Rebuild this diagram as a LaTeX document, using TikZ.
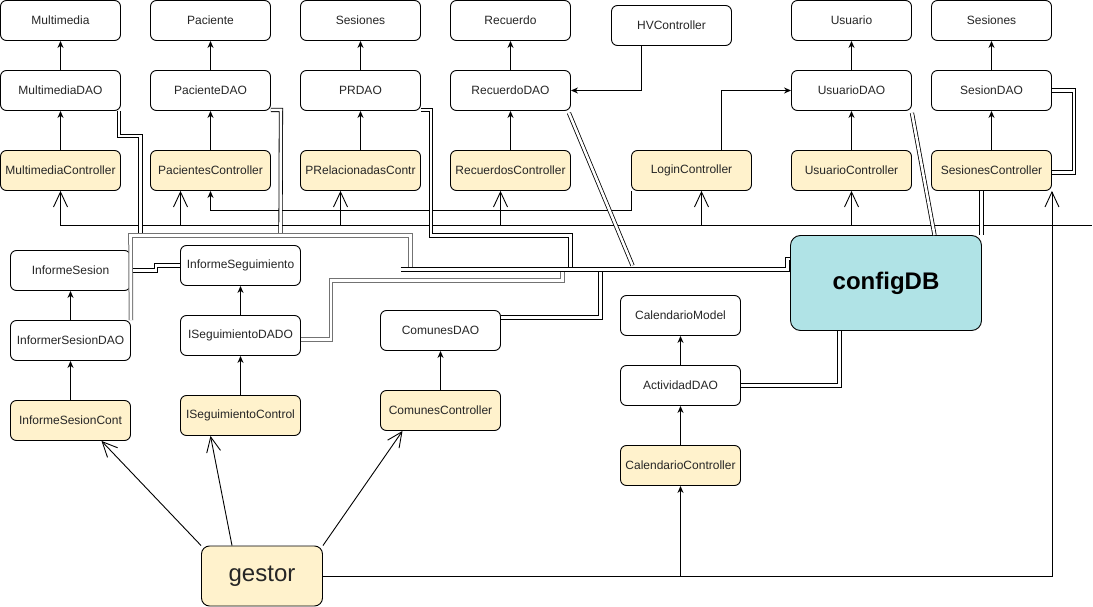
\documentclass[tikz,border=0pt]{standalone}
\usepackage{fontspec}
\setmainfont{Liberation Sans}
\usetikzlibrary{arrows.meta,positioning}

\definecolor{ctrlfill}{HTML}{FFF2CC}
\definecolor{dbfill}{HTML}{B0E3E6}

\tikzstyle{box} = [rectangle, rounded corners=6pt, minimum width=120pt, minimum height=40pt, inner sep=1pt, text centered, draw=black, fill=white, text=black!85, line width=0.9pt, font=\fontsize{12pt}{14pt}\selectfont]
\tikzstyle{ctrl} = [box, fill=ctrlfill]
\tikzstyle{arrow} = [line width=0.9pt, -{Stealth[length=7pt,width=6pt]}]
\tikzstyle{openarrow} = [line width=0.9pt, -{Straight Barb[length=15pt,width=14pt]}]
\tikzstyle{link} = [line width=0.8pt, double=white, double distance=2.6pt]
\tikzstyle{greylink} = [link, line width=1pt, draw=black!55]

\begin{document}
\begin{tikzpicture}[x=1pt, y=-1pt, node distance=80pt]
		\useasboundingbox (-0.5,-0.5) rectangle (1092.5,606.5);
		% Nodes
		\node (mmctrl) [ctrl] at (60,170) {MultimediaController};
		\node (mmdao) [box, above of=mmctrl] {MultimediaDAO};
		\node (mm) [box, node distance=70pt, above of=mmdao] {Multimedia};
		\node (pacctrl) [ctrl] at (210,170) {PacientesController};
		\node (pacdao) [box, above of=pacctrl] {PacienteDAO};
		\node (pac) [box, node distance=70pt, above of=pacdao] {Paciente};
		\node (prctrl) [ctrl] at (360,170) {PRelacionadasContr};
		\node (prdao) [box, above of=prctrl] {PRDAO};
		\node (ses) [box, node distance=70pt, above of=prdao] {Sesiones};
		\node (recctrl) [ctrl] at (510,170) {RecuerdosController};
		\node (recdao) [box, above of=recctrl] {RecuerdoDAO};
		\node (rec) [box, node distance=70pt, above of=recdao] {Recuerdo};
		\node (hv) [box] at (671,25) {HVController};
		\node (login) [ctrl] at (691,170) {LoginController};
		\node (usuctrl) [ctrl] at (851,170) {UsuarioController};
		\node (usudao) [box, above of=usuctrl] {UsuarioDAO};
		\node (usu) [box, node distance=70pt, above of=usudao] {Usuario};
		\node (sesctrl) [ctrl] at (991,170) {SesionesController};
		\node (sesdao) [box, above of=sesctrl] {SesionDAO};
		\node (ses2) [box, node distance=70pt, above of=sesdao] {Sesiones};
		\node (infsesctrl) [ctrl] at (70,420) {InformeSesionCont};
		\node (infsesdao) [box, above of=infsesctrl] {InformerSesionDAO};
		\node (infses) [box, node distance=70pt, above of=infsesdao] {InformeSesion};
		\node (isegctrl) [ctrl] at (240,415) {ISeguimientoControl};
		\node (isegdao) [box, above of=isegctrl] {ISeguimientoDADO};
		\node (infseg) [box, node distance=70pt, above of=isegdao] {InformeSeguimiento};
		\node (comctrl) [ctrl] at (440,410) {ComunesController};
		\node (comdao) [box, above of=comctrl] {ComunesDAO};
		\node (calctrl) [ctrl] at (680,465) {CalendarioController};
		\node (actdao) [box, above of=calctrl] {ActividadDAO};
		\node (calmod) [box, node distance=70pt, above of=actdao] {CalendarioModel};
		\node (config) [box, fill=dbfill, rounded corners=10pt, minimum width=191pt, minimum height=95pt, font=\fontsize{24pt}{28pt}\selectfont\bfseries, text=black] at (885.5,282.5) {configDB};
		\node (gestor) [ctrl, rounded corners=8pt, minimum width=121pt, minimum height=60pt, font=\fontsize{24pt}{28pt}\selectfont] at (261.5,575.5) {gestor};
		\coordinate (busE) at (1091,225);
		\coordinate (busW) at (400,269);
		\coordinate (busN) at (410,235);
		\coordinate (topL) at (130,235);
		\coordinate (isegJ) at (562,280);
		% Arrows
		\draw [arrow] (mmctrl) -- (mmdao);
		\draw [arrow] (mmdao) -- (mm);
		\draw [arrow] (pacctrl) -- (pacdao);
		\draw [arrow] (pacdao) -- (pac);
		\draw [arrow] (prctrl) -- (prdao);
		\draw [arrow] (prdao) -- (ses);
		\draw [arrow] (recctrl) -- (recdao);
		\draw [arrow] (recdao) -- (rec);
		\draw [arrow] (usuctrl) -- (usudao);
		\draw [arrow] (usudao) -- (usu);
		\draw [arrow] (sesctrl) -- (sesdao);
		\draw [arrow] (sesdao) -- (ses2);
		\draw [arrow] (infsesctrl) -- (infsesdao);
		\draw [arrow] (infsesdao) -- (infses);
		\draw [arrow] (isegctrl) -- (isegdao);
		\draw [arrow] (isegdao) -- (infseg);
		\draw [arrow] (comctrl) -- (comdao);
		\draw [arrow] (calctrl) -- (actdao);
		\draw [arrow] (actdao) -- (calmod);
		\draw [arrow] ([xshift=-30pt]hv.south) |- (recdao);
		\draw [arrow] ([xshift=30pt]login.north) |- (usudao);
		\draw [arrow] (login.south west) -- ++(0,20) -| (pacctrl);
		% Bus
		\draw [openarrow] (busE) -| (mmctrl);
		\draw [openarrow] ([xshift=-30pt]pacctrl.south |- busE) -- ([xshift=-30pt]pacctrl.south);
		\draw [openarrow] ([xshift=-20pt]prctrl.south |- busE) -- ([xshift=-20pt]prctrl.south);
		\draw [openarrow] ([xshift=-10pt]recctrl.south |- busE) -- ([xshift=-10pt]recctrl.south);
		\draw [openarrow] ([xshift=10pt]login.south |- busE) -- ([xshift=10pt]login.south);
		\draw [openarrow] (usuctrl.south |- busE) -- (usuctrl.south);
		% gestor
		\draw [openarrow] (gestor.north west) -- ([xshift=31pt]infsesctrl.south);
		\draw [openarrow] ([xshift=-30pt]gestor.north) -- ([xshift=-30pt]isegctrl.south);
		\draw [openarrow] (gestor.north east) -- ([xshift=-38pt]comctrl.south);
		\draw [openarrow] (gestor) -| (sesctrl.south east);
		\draw [arrow] (calctrl |- gestor) -- (calctrl);
		% configDB
		\draw [link] (infses.east) -- ++(25,0) |- (infseg.west);
		\draw [link] ([xshift=-2pt]mmdao.south east) -- ++(0,25) -| ([xshift=10pt]topL);
		\draw [link] ([yshift=1pt]pacdao.south east) -- ++(10,0) -- ([xshift=150pt]topL);
		\draw [greylink] (infsesdao.north east) -- (topL) -- (busN) -- (busN |- busW);
		\draw [link] ([yshift=1pt]prdao.south east) -- ++(10,0) |- ([xshift=160pt]busN) -- ([xshift=160pt]busN |- busW);
		\draw [greylink] ([yshift=-4pt]isegdao.east) -- ++(30,0) |- (isegJ) -- (isegJ |- busW);
		\draw [link] ([yshift=13pt]comdao.east) -| ([xshift=200pt]busW);
		\draw [link] ([xshift=-2pt,yshift=-2pt]recdao.south east) -- ([xshift=232pt,yshift=4pt]busW);
		\draw [link] (busW) -- ++(387,0) |- ([yshift=24pt]config.west);
		\draw [link] ([yshift=-2pt]usudao.south east) -- ([xshift=48.5pt]config.north);
		\draw [link] (sesdao.east) -- ++(22,0) |- ([yshift=-2pt]sesctrl.east);
		\draw [link] ([xshift=-10pt]sesctrl.south) -- ([xshift=-10pt]sesctrl.south |- config.north);
		\draw [link] (actdao.east) -| ([xshift=-46.5pt]config.south);
	\end{tikzpicture}
\end{document}
